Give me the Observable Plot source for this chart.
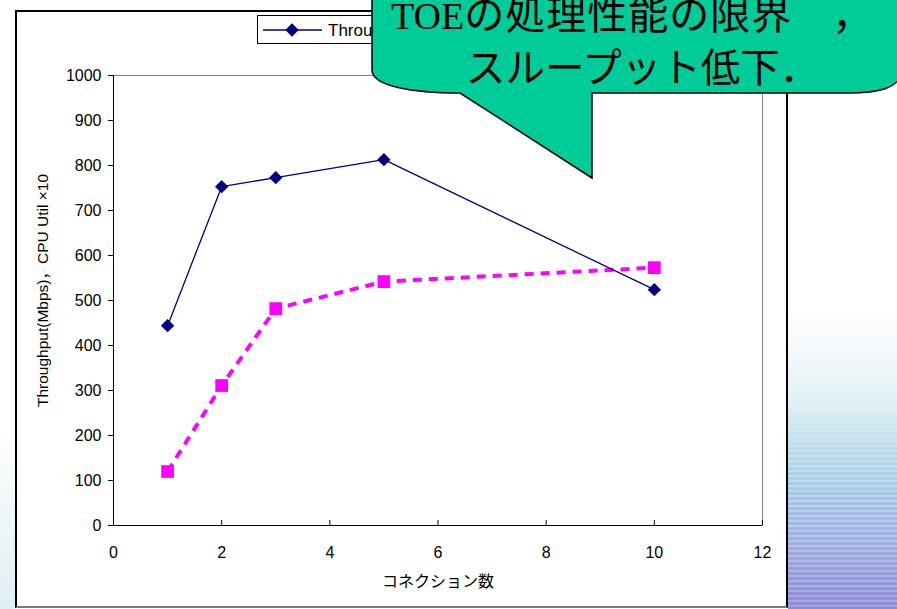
<!DOCTYPE html>
<html><head><meta charset="utf-8">
<script src="https://cdn.jsdelivr.net/npm/d3@7"></script>
<script src="https://cdn.jsdelivr.net/npm/@observablehq/plot@0.6"></script>
<style>
html,body{margin:0;padding:0;background:#fff;}
#stage{position:relative;width:897px;height:609px;overflow:hidden;background:#fff;}
#bgR{position:absolute;left:788px;top:0;width:109px;height:609px;
  background:linear-gradient(180deg,#ffffff 0%,#ffffff 50%,#f4f8fb 58%,#e2f0f6 66%,#c4e4ee 73%,#b0d4ec 80%,#a6bcea 88%,#9ca2e0 95%,#9490d8 100%);}
#bgR2{position:absolute;left:788px;top:400px;width:109px;height:209px;
  background:repeating-linear-gradient(180deg, rgba(255,255,255,0.18) 0 2px, rgba(40,40,130,0.06) 2px 5px);
  -webkit-mask-image:linear-gradient(180deg, transparent 0%, #000 50%);}
#bgL{position:absolute;left:0;top:0;width:15px;height:609px;
  background:linear-gradient(180deg,#ffffff 0%,#ffffff 70%,#eef6f8 85%,#e0eff3 100%);}
#box{position:absolute;left:15px;top:10px;width:769px;height:594px;border:2px solid #000;border-bottom-color:#7a7a7a;background:#fff;}
#plot{position:absolute;left:0;top:0;}
#over{position:absolute;left:0;top:0;}
</style></head>
<body>
<div id="stage">
  <div id="bgR"></div>
  <div id="bgR2"></div>
  <div id="bgL"></div>
  <div id="box"></div>
  <div id="plot"></div>
  <svg id="over" width="897" height="609" viewBox="0 0 897 609"></svg>
</div>
<script>
// ---- data ----
const connections = [1, 2, 3, 5, 10];
const throughput = [444, 753, 773, 813, 524];
const cpuUtil10 = [120, 311, 482, 542, 573];
const xTicks = [0, 2, 4, 6, 8, 10, 12];
const yTicks = [0, 100, 200, 300, 400, 500, 600, 700, 800, 900, 1000];
const seriesNames = ["Throughput", "CPU Util ×10"];
const xTitle = "コネクション数";
const yTitle = "Throughput(Mbps)，CPU Util ×10";
const calloutLatin = "TOE";
const calloutLine1 = "の処理性能の限界";
const calloutComma = "，";
const calloutLine2 = "スループット低下．";

const tpRows = connections.map((c, i) => ({x: c, y: throughput[i]}));
const cpuRows = connections.map((c, i) => ({x: c, y: cpuUtil10[i]}));

const font = "'Liberation Sans', Arial, 'Noto Sans CJK JP', sans-serif";

const chart = Plot.plot({
  width: 897,
  height: 609,
  marginLeft: 113,
  marginRight: 135,
  marginTop: 75,
  marginBottom: 84,
  style: {background: "transparent", fontFamily: font, fontSize: "16px", color: "#000", maxWidth: "none"},
  x: {domain: [0, 12]},
  y: {domain: [0, 1000]},
  marks: [
    Plot.frame({stroke: "#808080"}),
    Plot.axisY({ticks: yTicks, tickSize: 5, tickPadding: 7, tickFormat: d => String(d), label: null, fontSize: 16}),
    Plot.axisX({ticks: xTicks, tickSize: -5, tickPadding: 26, tickFormat: d => String(d), label: null, fontSize: 16}),
    Plot.ruleY([0], {stroke: "#000"}),
    Plot.ruleX([0], {stroke: "#000"}),
    Plot.line(cpuRows, {x: "x", y: "y", stroke: "#FF00FF", strokeWidth: 4, strokeDasharray: "9,7", strokeLinecap: "butt"}),
    Plot.dot(cpuRows, {x: "x", y: "y", symbol: "square", r: 7.2, fill: "#FF00FF"}),
    Plot.line(tpRows, {x: "x", y: "y", stroke: "#000080", strokeWidth: 1.3}),
    Plot.dot(tpRows, {x: "x", y: "y", symbol: "diamond2", r: 6, fill: "#000080"}),
    Plot.text([yTitle], {frameAnchor: "left", textAnchor: "middle", lineAnchor: "middle", dx: -70, dy: -10, rotate: -90, fontSize: 15.5, fill: "#000"}),
    Plot.text([xTitle], {frameAnchor: "bottom", textAnchor: "middle", dy: 61, fontSize: 16, fill: "#000", fontFamily: "'Noto Sans CJK JP', sans-serif"})
  ]
});
document.getElementById("plot").appendChild(chart);

// ---- legend + callout overlay ----
const over = d3.select("#over");
const lg = over.append("g");
lg.append("rect").attr("x", 257.5).attr("y", 15.5).attr("width", 300).attr("height", 28)
  .attr("fill", "#fff").attr("stroke", "#000");
lg.append("line").attr("x1", 263).attr("x2", 322).attr("y1", 30).attr("y2", 30)
  .attr("stroke", "#000080").attr("stroke-width", 1.3);
lg.append("path").attr("transform", "translate(292,30)")
  .attr("d", d3.symbol(d3.symbolDiamond2, 113)()).attr("fill", "#000080");
lg.append("text").attr("x", 328).attr("y", 36).attr("font-family", font).attr("font-size", 17)
  .text(seriesNames[0]);
lg.append("line").attr("x1", 436).attr("x2", 476).attr("y1", 30).attr("y2", 30)
  .attr("stroke", "#FF00FF").attr("stroke-width", 4).attr("stroke-dasharray", "9,7");
lg.append("rect").attr("x", 450).attr("y", 24).attr("width", 12).attr("height", 12).attr("fill", "#FF00FF");
lg.append("text").attr("x", 482).attr("y", 36).attr("font-family", font).attr("font-size", 17)
  .text(seriesNames[1]);

const co = over.append("g");
co.append("path")
  .attr("d", "M372,-10 V70 C372,86 412,93 460,93 L592,178 L592,93 L848,93 C880,93 898,88 903,72 V-10 Z")
  .attr("fill", "#00CC99").attr("stroke", "#000").attr("stroke-width", 1.5).attr("stroke-linejoin", "miter");
const l1 = co.append("text").attr("x", 391).attr("y", 29).attr("fill", "#000");
l1.append("tspan").attr("font-size", 38).attr("font-family", "'Liberation Serif', 'Times New Roman', serif")
  .text(calloutLatin);
l1.append("tspan").attr("font-size", 40).attr("font-family", "'Noto Sans CJK JP', sans-serif")
  .attr("letter-spacing", 1).text(calloutLine1);
l1.append("tspan").attr("dx", 40).attr("font-size", 40).attr("font-family", "'Noto Sans CJK JP', sans-serif")
  .text(calloutComma);
co.append("text").attr("x", 466).attr("y", 82)
  .attr("font-size", 39.5).attr("fill", "#000").attr("font-family", "'Noto Sans CJK JP', sans-serif")
  .text(calloutLine2);
</script>
</body></html>
